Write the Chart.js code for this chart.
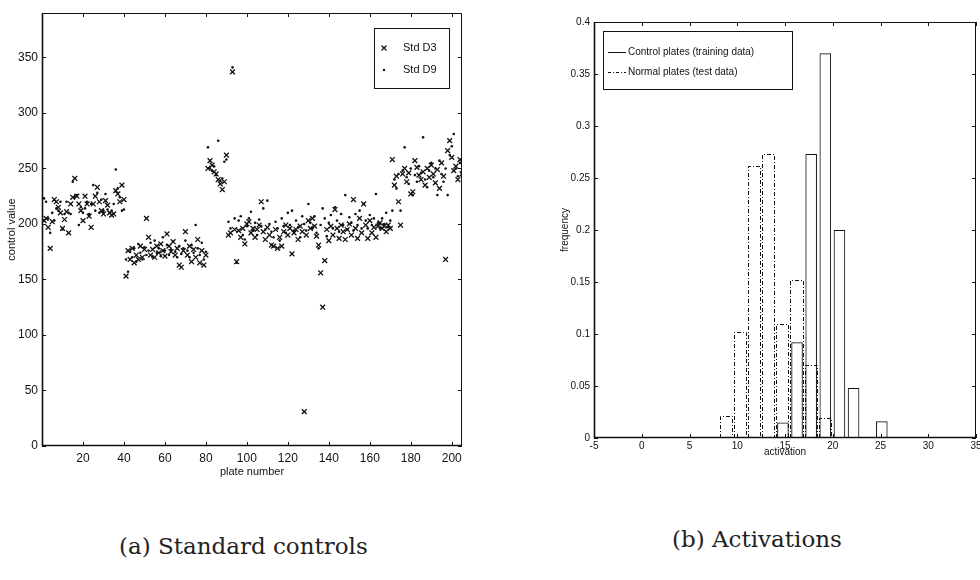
<!DOCTYPE html>
<html>
<head>
<meta charset="utf-8">
<title>Standard controls and activations</title>
<script src="https://cdn.jsdelivr.net/npm/chart.js@4.4.1/dist/chart.umd.min.js"></script>
<style>
  html, body { margin: 0; padding: 0; background: #fff; }
  body { width: 980px; height: 580px; position: relative; overflow: hidden; }
  #wrapA { position: absolute; left: 0; top: 0; width: 480px; height: 500px; }
  #wrapB { position: absolute; left: 530px; top: 0; width: 456px; height: 500px; }
  .caption { position: absolute; font-family: "DejaVu Serif", "Liberation Serif", serif; font-size: 23px; color: #222; white-space: nowrap; }
</style>
</head>
<body>
<div id="wrapA"><canvas id="controls"></canvas></div>
<div id="wrapB"><canvas id="activations"></canvas></div>
<div class="caption" style="left:119px; top:533px;">(a) Standard controls</div>
<div class="caption" style="left:672px; top:526px;">(b) Activations</div>

<script>
// panel (a): control value per plate
const plateCount = 205;
const plates = Array.from({length: plateCount}, (_, i) => i + 1);

const stdD3 = [
  203, 205, 197, 178, 202, 222, 220, 215, 210, 196,
  204, 211, 192, 218, 224, 241, 225, 218, 212, 203,
  225, 218, 207, 197, 218, 225, 233, 220, 212, 209,
  221, 217, 210, 208, 209, 230, 227, 220, 235, 222,
  153, 176, 168, 178, 165, 172, 168, 180, 170, 177,
  205, 188, 172, 177, 170, 180, 174, 182, 176, 171,
  191, 180, 175, 184, 172, 178, 163, 161, 176, 193,
  172, 180, 166, 177, 170, 186, 165, 176, 163, 172,
  250, 257, 253, 247, 245, 240, 236, 231, 238, 262,
  190, 192, 337, 195, 166, 194, 188, 196, 182, 200,
  202, 192, 196, 188, 195, 199, 220, 193, 186, 197,
  190, 181, 180, 195, 178, 188, 180, 193, 199, 190,
  196, 173, 192, 195, 186, 198, 193, 31, 190, 203,
  196, 205, 198, 189, 181, 156, 125, 167, 195, 185,
  198, 190, 213, 196, 187, 199, 193, 186, 195, 200,
  190, 222, 196, 187, 205, 192, 218, 199, 187, 203,
  192, 197, 188, 198, 201, 196, 198, 193, 199, 196,
  258, 235, 243, 220, 199, 245, 250, 238, 246, 227,
  229, 257, 251, 244, 240, 247, 235, 250, 242, 253,
  245, 237, 249, 232, 255, 243, 168, 266, 275, 260,
  248, 252, 240, 258, 245
];

const stdD9 = [
  223, 220, 205, 192, 210, 203, 214, 212, 220, 195,
  209, 220, 210, 209, 238, 224, 226, 199, 215, 210,
  214, 220, 209, 218, 235, 212, 228, 210, 222, 212,
  227, 213, 210, 212, 218, 249, 232, 224, 212, 213,
  168, 157, 175, 170, 178, 166, 182, 174, 168, 179,
  172, 176, 183, 170, 185, 174, 178, 171, 188, 176,
  181, 172, 177, 184, 175, 170, 180, 173, 178, 185,
  176, 170, 181, 174, 199, 178, 172, 183, 168, 175,
  269, 250, 248, 252, 244, 275, 239, 241, 256, 258,
  202, 196, 341, 205, 165, 203, 207, 190, 186, 198,
  205, 211, 194, 201, 190, 204, 198, 214, 195, 221,
  200, 193, 188, 202, 196, 185, 205, 198, 192, 210,
  199, 212, 194, 203, 197, 188, 207, 200, 194, 218,
  201, 196, 207, 192, 178, 199, 214, 205, 189, 201,
  208, 196, 215, 203, 193, 209, 199, 226, 195, 206,
  201, 194, 209, 199, 212, 196, 218, 203, 196, 208,
  199, 205, 227, 201, 196, 205, 200, 210, 197, 203,
  212, 240, 232, 245, 212, 248, 269, 242, 236, 250,
  226, 244, 238, 252, 246, 278, 240, 233, 248, 255,
  242, 250, 226, 257, 245, 238, 250, 226, 262, 270,
  281, 250, 243, 255, 248
];

const plateTicks = [20, 40, 60, 80, 100, 120, 140, 160, 180, 200];
const controlTicks = [0, 50, 100, 150, 200, 250, 300, 350];

// panel (b): histogram of activations (bin centres and relative frequency)
const activationBins = [8.86, 10.34, 11.82, 13.3, 14.78, 16.26, 17.74, 19.22, 20.7, 22.18, 23.66, 25.14];
const controlFreq = [0, 0, 0, 0, 0.015, 0.092, 0.273, 0.37, 0.2, 0.048, 0, 0.016];
const normalFreq = [0.021, 0.102, 0.262, 0.273, 0.11, 0.152, 0.07, 0.019, 0, 0, 0, 0];

const activationTicks = [-5, 0, 5, 10, 15, 20, 25, 30, 35];
const frequencyTicks = [0, 0.05, 0.1, 0.15, 0.2, 0.25, 0.3, 0.35, 0.4];

const INK = '#111';
Chart.defaults.font.family = '"Liberation Sans", Arial, sans-serif';
Chart.defaults.color = INK;

// matlab style frame: box round the plot area, ticks pointing inwards
const boxTicks = {
  id: 'boxTicks',
  afterDraw(chart) {
    const {ctx, chartArea: a, scales: {x, y}} = chart;
    const len = 4;
    ctx.save();
    ctx.strokeStyle = INK;
    ctx.lineWidth = 1;
    ctx.beginPath();
    ctx.moveTo(a.left, a.top + 0.5);
    ctx.lineTo(a.right - 0.5, a.top + 0.5);
    ctx.lineTo(a.right - 0.5, a.bottom);
    x.ticks.forEach(t => {
      const px = Math.round(x.getPixelForValue(t.value)) + 0.5;
      ctx.moveTo(px, a.bottom); ctx.lineTo(px, a.bottom - len);
      ctx.moveTo(px, a.top); ctx.lineTo(px, a.top + len);
    });
    y.ticks.forEach(t => {
      const py = Math.round(y.getPixelForValue(t.value)) + 0.5;
      ctx.moveTo(a.left, py); ctx.lineTo(a.left + len, py);
      ctx.moveTo(a.right, py); ctx.lineTo(a.right - len, py);
    });
    ctx.stroke();
    // left and bottom axes come out heavier in the scan
    ctx.lineWidth = 1.6;
    ctx.beginPath();
    ctx.moveTo(a.left + 0.5, a.top);
    ctx.lineTo(a.left + 0.5, a.bottom - 0.5);
    ctx.lineTo(a.right, a.bottom - 0.5);
    ctx.stroke();
    ctx.restore();
  }
};

// dash-dot outlines for bars, drawn on the geometry the bar controller computed
const dashedBars = {
  id: 'dashedBars',
  afterDatasetsDraw(chart) {
    const ctx = chart.ctx;
    chart.data.datasets.forEach((ds, i) => {
      if (!ds.dash) return;
      ctx.save();
      ctx.strokeStyle = INK;
      ctx.lineWidth = 1;
      ctx.setLineDash(ds.dash);
      chart.getDatasetMeta(i).data.forEach(bar => {
        const {x, y, base, width} = bar.getProps(['x', 'y', 'base', 'width'], true);
        const l = Math.round(x - width / 2) + 0.5;
        const r = Math.round(x + width / 2) - 0.5;
        const t = Math.round(y) + 0.5;
        ctx.beginPath();
        ctx.moveTo(l, base); ctx.lineTo(l, t); ctx.lineTo(r, t); ctx.lineTo(r, base);
        ctx.stroke();
      });
      ctx.restore();
    });
  }
};

// boxed legend inside the plot area
const boxLegend = {
  id: 'boxLegend',
  afterDraw(chart) {
    const o = chart.options.plugins.boxLegend;
    const ctx = chart.ctx;
    ctx.save();
    ctx.fillStyle = '#fff';
    ctx.fillRect(o.left, o.top, o.width, o.height);
    ctx.strokeStyle = INK;
    ctx.lineWidth = 1;
    ctx.strokeRect(o.left + 0.5, o.top + 0.5, o.width, o.height);
    ctx.font = o.font;
    ctx.textBaseline = 'middle';
    chart.data.datasets.forEach((ds, i) => {
      const cy = o.rowY[i];
      ctx.fillStyle = INK;
      ctx.beginPath();
      if (ds.legendMark === 'cross') {
        ctx.lineWidth = 1.3;
        ctx.moveTo(o.markX - 2.5, cy - 2.5); ctx.lineTo(o.markX + 2.5, cy + 2.5);
        ctx.moveTo(o.markX + 2.5, cy - 2.5); ctx.lineTo(o.markX - 2.5, cy + 2.5);
        ctx.stroke();
      } else if (ds.legendMark === 'dot') {
        ctx.arc(o.markX, cy, 1.2, 0, Math.PI * 2);
        ctx.fill();
      } else {
        ctx.lineWidth = 1;
        ctx.setLineDash(ds.legendMark === 'dashdot' ? [3, 2, 1, 2] : []);
        ctx.moveTo(o.markX, cy + 0.5); ctx.lineTo(o.markX + o.markW, cy + 0.5);
        ctx.stroke();
        ctx.setLineDash([]);
      }
      ctx.fillText(ds.label, o.textX, cy);
    });
    ctx.restore();
  }
};

new Chart(document.getElementById('controls'), {
  type: 'scatter',
  data: {
    datasets: [
      {
        label: 'Std D3',
        data: plates.map((p, i) => ({x: p, y: stdD3[i]})),
        pointStyle: 'crossRot',
        pointRadius: 3.4,
        pointBorderWidth: 1.3,
        pointBorderColor: INK,
        pointBackgroundColor: INK,
        legendMark: 'cross'
      },
      {
        label: 'Std D9',
        data: plates.map((p, i) => ({x: p, y: stdD9[i]})),
        pointStyle: 'circle',
        pointRadius: 1.3,
        pointBorderWidth: 0,
        pointBackgroundColor: INK,
        legendMark: 'dot'
      }
    ]
  },
  options: {
    responsive: true,
    maintainAspectRatio: false,
    animation: false,
    events: [],
    layout: {padding: {left: 0, right: 18, top: 13, bottom: 20}},
    plugins: {
      legend: {display: false},
      tooltip: {enabled: false},
      boxLegend: {left: 374, top: 28, width: 75, height: 60, rowY: [48, 70], markX: 384, textX: 403,
                  font: '11px "Liberation Sans", Arial, sans-serif'}
    },
    scales: {
      x: {
        type: 'linear', min: 0, max: plateCount,
        grid: {display: false, drawTicks: false}, border: {display: false},
        afterBuildTicks: s => { s.ticks = plateTicks.map(v => ({value: v})); },
        afterFit: s => { s.height = 34; },
        ticks: {padding: 5, font: {size: 12}, maxRotation: 0, autoSkip: false, callback: v => String(v)},
        title: {display: true, text: 'plate number', font: {size: 11}, padding: {top: 0, bottom: 1}}
      },
      y: {
        type: 'linear', min: 0, max: 390,
        grid: {display: false, drawTicks: false}, border: {display: false},
        afterBuildTicks: s => { s.ticks = controlTicks.map(v => ({value: v})); },
        afterFit: s => { s.width = 42; },
        ticks: {padding: 4, font: {size: 12}, autoSkip: false, callback: v => String(v)},
        title: {display: true, text: 'control value', font: {size: 11}, padding: {top: 5, bottom: 0}}
      }
    }
  },
  plugins: [boxTicks, boxLegend]
});

new Chart(document.getElementById('activations'), {
  type: 'bar',
  data: {
    datasets: [
      {
        label: 'Control plates (training data)',
        data: activationBins.map((b, i) => ({x: b, y: controlFreq[i]})).filter(d => d.y > 0),
        borderColor: INK,
        borderWidth: 1,
        backgroundColor: 'rgba(0,0,0,0)',
        barPercentage: 0.82,
        categoryPercentage: 1,
        grouped: false,
        legendMark: 'line'
      },
      {
        label: 'Normal plates (test data)',
        data: activationBins.map((b, i) => ({x: b, y: normalFreq[i]})).filter(d => d.y > 0),
        borderWidth: 0,
        backgroundColor: 'rgba(0,0,0,0)',
        barPercentage: 0.93,
        categoryPercentage: 1,
        grouped: false,
        dash: [4, 2, 1, 2],
        legendMark: 'dashdot'
      }
    ]
  },
  options: {
    responsive: true,
    maintainAspectRatio: false,
    animation: false,
    events: [],
    layout: {padding: {left: 25, right: 10, top: 22, bottom: 40}},
    plugins: {
      legend: {display: false},
      tooltip: {enabled: false},
      boxLegend: {left: 73, top: 31, width: 189, height: 58, rowY: [52, 72], markX: 78, markW: 18, textX: 98,
                  font: '10px "Liberation Sans", Arial, sans-serif'}
    },
    scales: {
      x: {
        type: 'linear', min: -5, max: 35, offset: false,
        grid: {display: false, drawTicks: false, offset: false}, border: {display: false},
        afterBuildTicks: s => { s.ticks = activationTicks.map(v => ({value: v})); },
        afterFit: s => { s.height = 22; },
        ticks: {padding: 2, font: {size: 10}, maxRotation: 0, autoSkip: false, callback: v => String(v)},
        title: {display: true, text: 'activation', font: {size: 10}, padding: {top: 0, bottom: 2}}
      },
      y: {
        type: 'linear', min: 0, max: 0.4,
        grid: {display: false, drawTicks: false}, border: {display: false},
        afterBuildTicks: s => { s.ticks = frequencyTicks.map(v => ({value: v})); },
        afterFit: s => { s.width = 39; },
        ticks: {padding: 4, font: {size: 10}, autoSkip: false, callback: v => String(v)},
        title: {display: true, text: 'frequency', font: {size: 10}, padding: {top: 4, bottom: 0}}
      }
    }
  },
  plugins: [dashedBars, boxTicks, boxLegend]
});
</script>
</body>
</html>
